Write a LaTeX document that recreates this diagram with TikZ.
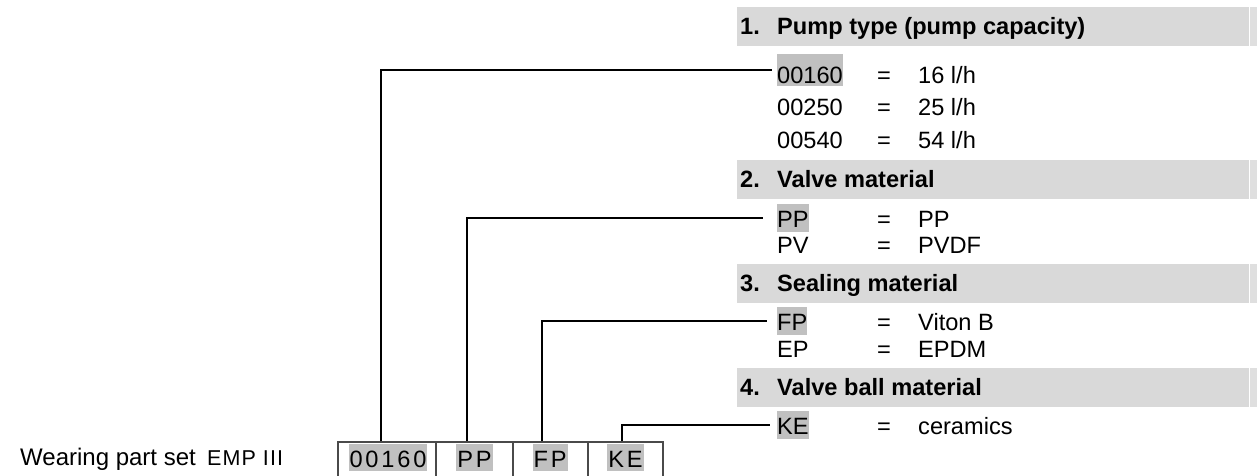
\documentclass[tikz,border=0pt]{standalone}
\usepackage{fontspec}
\setmainfont{Liberation Sans}
\definecolor{hdrgray}{HTML}{D9D9D9}
\definecolor{stripgray}{HTML}{DFDFDF}
\definecolor{hlgray}{HTML}{C0C0C0}
\definecolor{boxline}{HTML}{4A4A4A}
\newcommand\regf{\fontsize{23.6}{28}\selectfont}
\newcommand\cellf{\fontsize{23.6}{28}\selectfont\addfontfeatures{LetterSpace=12}}
\tikzset{
  hdrbar/.style={fill=hdrgray, draw=none, inner sep=0, anchor=north west, minimum width=512, minimum height=39},
  hdrstrip/.style={fill=stripgray, draw=none, inner sep=0, anchor=north west, minimum width=7, minimum height=39},
  txt/.style={inner sep=0, anchor=base west, font=\regf, text=black},
  hdrtxt/.style={txt, font=\regf\bfseries},
  hlcode/.style={txt, fill=hlgray, text height=23, text depth=5},
  celltxt/.style={inner sep=0, anchor=base, font=\cellf, fill=hlgray, text height=23, text depth=4, inner xsep=1},
  cellbox/.style={draw=boxline, line width=1.5pt, inner sep=0, anchor=north west, minimum height=45},
  conn/.style={draw=black, line width=1.3pt},
}
\begin{document}
\begin{tikzpicture}[x=1pt,y=-1pt]
\useasboundingbox (0,0) rectangle (1257,475);
% header bars
\node[hdrbar] (h1) at (737,7) {};
\node[hdrstrip] (s1) at (1250,7) {};
\node[hdrbar] (h2) at (737,160) {};
\node[hdrstrip] (s2) at (1250,160) {};
\node[hdrbar] (h3) at (737,264) {};
\node[hdrstrip] (s3) at (1250,264) {};
\node[hdrbar] (h4) at (737,368) {};
\node[hdrstrip] (s4) at (1250,368) {};
\node[hdrtxt] (h1n) at (740,34) {1.};
\node[hdrtxt] (h1t) at (777,34) {Pump type (pump capacity)};
\node[hdrtxt] (h2n) at (740,187) {2.};
\node[hdrtxt] (h2t) at (777,187) {Valve material};
\node[hdrtxt] (h3n) at (740,291) {3.};
\node[hdrtxt] (h3t) at (777,291) {Sealing material};
\node[hdrtxt] (h4n) at (740,395) {4.};
\node[hdrtxt] (h4t) at (777,395) {Valve ball material};
% section 1
\node[hlcode, text height=29, text depth=3] (e1) at (777,83) {00160};
\node[txt] (q1) at (877,83) {=};
\node[txt] (v1) at (918,83) {16 l/h};
\node[txt] (e1b) at (777,115) {00250};
\node[txt] (q1b) at (877,115) {=};
\node[txt] (v1b) at (918,115) {25 l/h};
\node[txt] (e1c) at (777,148) {00540};
\node[txt] (q1c) at (877,148) {=};
\node[txt] (v1c) at (918,148) {54 l/h};
% section 2
\node[hlcode] (e2) at (777,227) {PP};
\node[txt] (q2) at (877,227) {=};
\node[txt] (v2) at (918,227) {PP};
\node[txt] (e2b) at (777,253) {PV};
\node[txt] (q2b) at (877,253) {=};
\node[txt] (v2b) at (918,253) {PVDF};
% section 3
\node[hlcode] (e3) at (777,330) {FP};
\node[txt] (q3) at (877,330) {=};
\node[txt] (v3) at (918,330) {Viton B};
\node[txt] (e3b) at (777,357) {EP};
\node[txt] (q3b) at (877,357) {=};
\node[txt] (v3b) at (918,357) {EPDM};
% section 4
\node[hlcode] (e4) at (777,434) {KE};
\node[txt] (q4) at (877,434) {=};
\node[txt] (v4) at (918,434) {ceramics};
% designation box
\node[cellbox, minimum width=98] (c1) at (337,441) {};
\node[cellbox, minimum width=77] (c2) at (435,441) {};
\node[cellbox, minimum width=75] (c3) at (512,441) {};
\node[cellbox, minimum width=75] (c4) at (587,441) {};
\node[celltxt] (t1) at (388,467) {00160};
\node[celltxt] (t2) at (474.5,467) {PP};
\node[celltxt] (t3) at (550,467) {FP};
\node[celltxt] (t4) at (625.5,467) {KE};
% label
\node[txt, font=\fontsize{24}{28}\selectfont] (w1) at (20,465) {Wearing part set};
\node[txt, font=\fontsize{21.5}{24}\selectfont\addfontfeatures{LetterSpace=5}] (w2) at (207,465) {EMP III};
% connectors
\coordinate (k1) at (381,441);
\coordinate (k2) at (467,441);
\coordinate (k3) at (542,441);
\coordinate (k4) at (622,441);
\draw[conn] (k1) |- ([xshift=-5pt]e1.west);
\draw[conn] (k2) |- ([xshift=-14pt]e2.west);
\draw[conn] (k3) |- ([xshift=-10pt]e3.west);
\draw[conn] (k4) |- ([xshift=-7pt]e4.west);
\end{tikzpicture}
\end{document}
